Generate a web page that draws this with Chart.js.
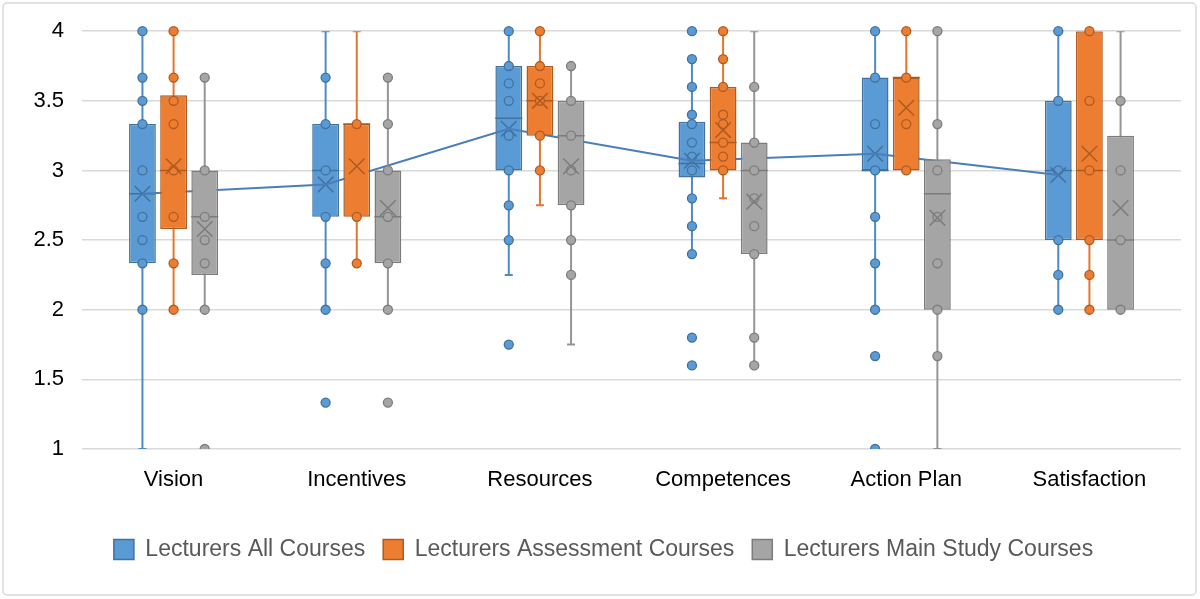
<!DOCTYPE html>
<html>
<head>
<meta charset="utf-8">
<script src="https://cdn.jsdelivr.net/npm/chart.js@4.4.1/dist/chart.umd.min.js"></script>
<style>
  html, body { margin: 0; padding: 0; background: #fff; }
  #wrap { width: 1200px; height: 599px; }
</style>
</head>
<body>
<div id="wrap"><canvas id="boxChart" width="1200" height="599"></canvas></div>
<script>
// Categorías y series
var categories = ["Vision", "Incentives", "Resources", "Competences", "Action Plan", "Satisfaction"];
var seriesNames = ["Lecturers All Courses", "Lecturers Assessment Courses", "Lecturers Main Study Courses"];

// Lecturers All Courses
var allQ1     = [2.333, 2.667, 3.0,   2.95, 3.0,   2.5];
var allMedian = [2.833, 3.0,   3.375, 3.05, 3.0,   3.0];
var allQ3     = [3.333, 3.333, 3.75,  3.35, 3.667, 3.5];
var allLow    = [1.0,   2.0,   2.25,  2.4,  2.0,   2.0];
var allHigh   = [4.0,   4.0,   4.0,   3.8,  4.0,   4.0];
var allMean   = [2.833, 2.9,   3.30,  3.07, 3.12,  2.967];
var allPoints = [
  [4, 3.667, 3.5, 3.333, 3, 2.667, 2.5, 2.333, 2],
  [3.667, 3.333, 3, 2.667, 2.333, 2, 1.333],
  [4, 3.75, 3.625, 3.5, 3.25, 3, 2.75, 2.5, 1.75],
  [4, 3.8, 3.6, 3.4, 3.333, 3.2, 3.1, 3.0, 2.8, 2.6, 2.4, 1.8, 1.6],
  [4, 3.667, 3.333, 3, 2.667, 2.333, 2, 1.667, 1],
  [4, 3.5, 3, 2.5, 2.25, 2]
];

// Lecturers Assessment Courses
var assessQ1     = [2.58, 2.667, 3.25, 3.0,  3.0,   2.5];
var assessMedian = [3.0,  3.333, 3.5,  3.2,  3.667, 3.0];
var assessQ3     = [3.54, 3.333, 3.75, 3.6,  3.667, 4.0];
var assessLow    = [2.0,  2.333, 2.75, 2.8,  3.0,   2.0];
var assessHigh   = [4.0,  4.0,   4.0,  4.0,  4.0,   4.0];
var assessMean   = [3.03, 3.03,  3.5,  3.29, 3.45,  3.12];
var assessPoints = [
  [4, 3.667, 3.5, 3.333, 3, 2.667, 2.333, 2],
  [3.333, 2.667, 2.333],
  [4, 3.75, 3.625, 3.5, 3.25, 3.0],
  [4, 3.8, 3.6, 3.4, 3.333, 3.2, 3.1, 3.0],
  [4, 3.667, 3.333, 3.0],
  [4, 3.5, 3, 2.5, 2.25, 2]
];

// Lecturers Main Study Courses
var mainQ1     = [2.25,  2.333, 2.75, 2.4,   2.0,   2.0];
var mainMedian = [2.667, 2.667, 3.25, 3.0,   2.833, 2.5];
var mainQ3     = [3.0,   3.0,   3.5,  3.2,   3.08,  3.25];
var mainLow    = [2.0,   2.0,   1.75, 1.6,   1.0,   2.0];
var mainHigh   = [3.667, 3.667, 3.75, 4.0,   4.0,   4.0];
var mainMean   = [2.58,  2.73,  3.03, 2.776, 2.66,  2.73];
var mainPoints = [
  [3.667, 3, 2.667, 2.5, 2.333, 2, 1],
  [3.667, 3.333, 3, 2.667, 2.333, 2, 1.333],
  [3.75, 3.5, 3.25, 3.0, 2.75, 2.5, 2.25],
  [3.6, 3.2, 3.0, 2.8, 2.6, 2.4, 1.8, 1.6],
  [4, 3.333, 3.0, 2.667, 2.333, 2.0, 1.667],
  [3.5, 3.0, 2.5, 2.0]
];

// Ticks del eje Y
var yTicks = [1, 1.5, 2, 2.5, 3, 3.5, 4];

// Estilos (separados de los datos)
var fuente = '"Liberation Sans", Arial, sans-serif';
var estilos = [
  { fill: '#5B9BD5', edge: '#41719C', line: '#4F89C7' },
  { fill: '#ED7D31', edge: '#AE5A21', line: '#E3762C' },
  { fill: '#A5A5A5', edge: '#7C7C7C', line: '#959595' }
];
var desplazamiento = [-0.17, 0, 0.17];
var ordenBase = [60, 40, 20];

var series = [
  { q1: allQ1, med: allMedian, q3: allQ3, low: allLow, high: allHigh, mean: allMean, pts: allPoints },
  { q1: assessQ1, med: assessMedian, q3: assessQ3, low: assessLow, high: assessHigh, mean: assessMean, pts: assessPoints },
  { q1: mainQ1, med: mainMedian, q3: mainQ3, low: mainLow, high: mainHigh, mean: mainMean, pts: mainPoints }
];

var clipAbajo = { left: false, top: false, right: false, bottom: 0 };
var datasets = [];
var indicesCaja = [];

series.forEach(function(s, k) {
  var off = desplazamiento[k];
  var st = estilos[k];
  var o = ordenBase[k];

  var bigotes = [];
  var topes = [];
  var cajas = [];
  var medianas = [];
  var puntos = [];
  var medias = [];
  categories.forEach(function(c, i) {
    var x = i + off;
    bigotes.push({ x: x, y: s.low[i] }, { x: x, y: s.high[i] }, { x: x, y: null });
    topes.push({ x: x, y: s.low[i] }, { x: x, y: s.high[i] });
    cajas.push({ x: x, y: [s.q1[i], s.q3[i]] });
    medianas.push({ x: x, y: s.med[i] });
    medias.push({ x: x, y: s.mean[i] });
    s.pts[i].forEach(function(v) { puntos.push({ x: x, y: v }); });
  });

  //Bigotes, topes, caja, mediana, puntos y media
  datasets.push({
    type: 'scatter', label: 'whisker', data: bigotes, showLine: true, spanGaps: false,
    borderColor: st.line, borderWidth: 2, pointRadius: 0, order: o + 5
  });
  datasets.push({
    type: 'scatter', label: 'cap', data: topes, pointStyle: 'line', pointRadius: 4,
    borderColor: st.line, borderWidth: 2, order: o + 4
  });
  indicesCaja.push(datasets.length);
  datasets.push({
    type: 'bar', label: seriesNames[k], data: cajas, grouped: false,
    categoryPercentage: 1, barPercentage: 0.86,
    backgroundColor: st.fill, borderColor: st.edge, borderWidth: 1.5, borderSkipped: false,
    order: o + 3
  });
  datasets.push({
    type: 'scatter', label: 'median', data: medianas, pointStyle: 'line', pointRadius: 13.5,
    borderColor: st.edge, borderWidth: 1.5, order: o + 2
  });
  datasets.push({
    type: 'scatter', label: 'points', data: puntos, pointRadius: 4.5,
    backgroundColor: st.fill, borderColor: st.edge, borderWidth: 1.3, clip: clipAbajo, order: o + 1
  });
  datasets.push({
    type: 'scatter', label: 'mean', data: medias, pointStyle: 'crossRot', pointRadius: 11,
    borderColor: st.edge, borderWidth: 1.5, order: o
  });
});

// Línea de medias de la primera serie
datasets.push({
  type: 'scatter', label: 'meanline',
  data: categories.map(function(c, i) { return { x: i + desplazamiento[0], y: allMean[i] }; }),
  showLine: true, borderColor: '#4A7EBB', borderWidth: 2, pointRadius: 0, order: 50
});

// Marco y fondo
var marco = {
  id: 'marco',
  beforeDraw: function(chart) {
    var c = chart.ctx;
    c.save();
    c.fillStyle = '#ffffff';
    c.fillRect(0, 0, chart.width, chart.height);
    c.strokeStyle = '#D9D9D9';
    c.lineWidth = 1.5;
    c.beginPath();
    c.roundRect(3, 3, chart.width - 7, chart.height - 7, 4);
    c.stroke();
    c.restore();
  }
};

var ctx = document.getElementById('boxChart').getContext('2d');
var grafico = new Chart(ctx, {
  data: { datasets: datasets },
  plugins: [marco],
  options: {
    responsive: false,
    animation: false,
    events: [],
    layout: { padding: { left: 26, right: 19, top: 29, bottom: 28 } },
    scales: {
      x: {
        type: 'linear', min: -0.5, max: 5.5, offset: false,
        afterBuildTicks: function(scale) {
          scale.ticks = categories.map(function(c, i) { return { value: i }; });
        },
        afterFit: function(scale) { scale.height = 71; },
        grid: { display: false, drawTicks: false, offset: false },
        border: { display: false },
        ticks: {
          autoSkip: false, maxRotation: 0, padding: 18,
          color: '#000000', font: { family: fuente, size: 22 },
          callback: function(v) { return categories[v]; }
        }
      },
      y: {
        type: 'linear', min: 1, max: 4,
        afterBuildTicks: function(scale) {
          scale.ticks = yTicks.map(function(v) { return { value: v }; });
        },
        afterFit: function(scale) { scale.width = 56; },
        grid: { color: '#D9D9D9', lineWidth: 1.5, drawTicks: false },
        border: { display: false },
        ticks: {
          padding: 18, color: '#000000', font: { family: fuente, size: 22 },
          callback: function(v) { return String(v); }
        }
      }
    },
    plugins: {
      tooltip: { enabled: false },
      legend: {
        position: 'bottom',
        labels: {
          boxWidth: 20, boxHeight: 20, padding: 18,
          color: '#595959', font: { family: fuente, size: 23 },
          filter: function(item) { return indicesCaja.indexOf(item.datasetIndex) >= 0; },
          sort: function(a, b) { return a.datasetIndex - b.datasetIndex; }
        }
      }
    }
  }
});
</script>
</body>
</html>
